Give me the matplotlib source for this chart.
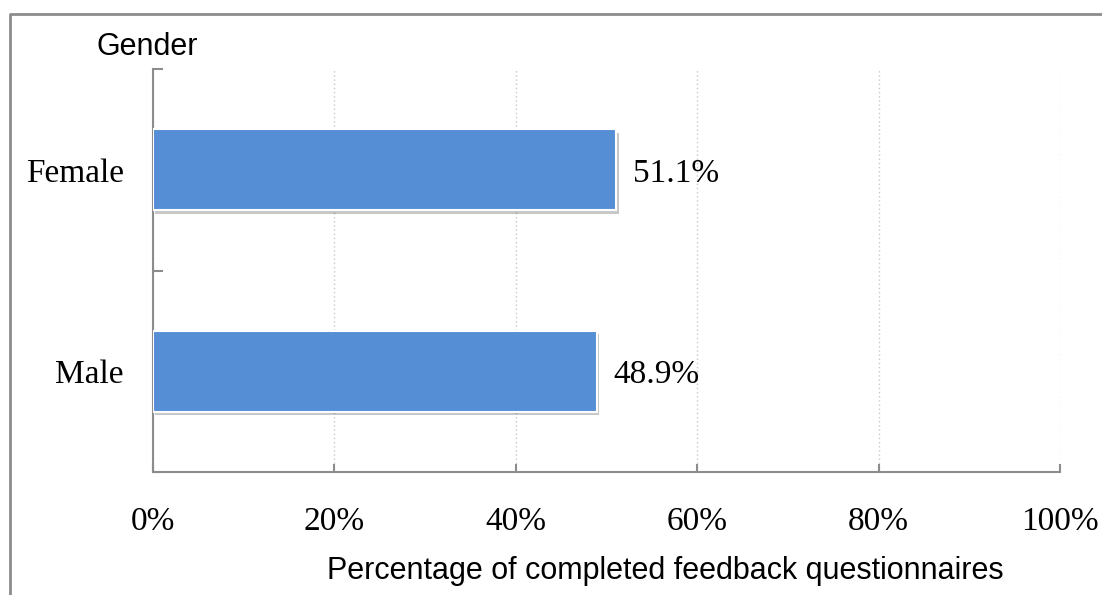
import matplotlib.pyplot as plt
import matplotlib.patheffects as pe
from matplotlib.lines import Line2D

genders = ['Male', 'Female']
percent = [48.9, 51.1]
xticks = [0, 20, 40, 60, 80, 100]

bar_color = '#558ED5'
axis_gray = '#8C8C8C'
serif = 'Liberation Serif'
sans = 'Liberation Sans'

fig = plt.figure(figsize=(11.02, 5.95), dpi=100)
ax = fig.add_axes([153 / 1102, 1 - 472 / 595, 907 / 1102, 403 / 595])

bars = ax.barh(range(len(genders)), percent, height=0.4, color=bar_color,
               edgecolor='white', linewidth=1.5, zorder=3)
for b in bars:
    b.set_path_effects([pe.SimplePatchShadow(offset=(1.5, -2.5), shadow_rgbFace='#000000', alpha=0.22),
                        pe.Normal()])

for i, v in enumerate(percent):
    ax.annotate(f'{v:.1f}%', xy=(v, i), xytext=(12, 0), textcoords='offset points',
                va='center_baseline', ha='left', fontsize=24, family=serif)

ax.set_xlim(0, 100)
ax.set_ylim(-0.5, 1.5)
ax.set_xticks(xticks)
ax.set_xticklabels([f'{t}%' for t in xticks], fontsize=24, family=serif)
ax.tick_params(axis='x', direction='in', length=6, width=1.5, color=axis_gray, pad=25)

ax.set_yticks(range(len(genders)))
ax.set_yticklabels(genders, fontsize=24, family=serif)
ax.tick_params(axis='y', which='major', length=0, pad=21)
ax.set_yticks([-0.5, 0.5, 1.5], minor=True)
ax.tick_params(axis='y', which='minor', direction='in', length=7, width=1.5, color=axis_gray)

ax.xaxis.grid(True, linestyle=(0, (1, 2)), color='#C8C8C8', linewidth=1, zorder=0)
ax.set_axisbelow(True)

for side in ['top', 'right']:
    ax.spines[side].set_visible(False)
for side in ['left', 'bottom']:
    ax.spines[side].set_color(axis_gray)
    ax.spines[side].set_linewidth(1.5)

fig.text(97 / 1102, 1 - 47 / 595, 'Gender', fontsize=22, family=sans, va='center', ha='left')
fig.text(665 / 1102, 1 - 571 / 595, 'Percentage of completed feedback questionnaires',
         fontsize=22, family=sans, va='center', ha='center')

# frame around the chart area (left and top edges)
fig.add_artist(Line2D([10 / 1102, 10 / 1102, 1], [0, 1 - 14 / 595, 1 - 14 / 595],
                      transform=fig.transFigure, color=axis_gray, linewidth=2))

fig.savefig('out.png', dpi=100)
